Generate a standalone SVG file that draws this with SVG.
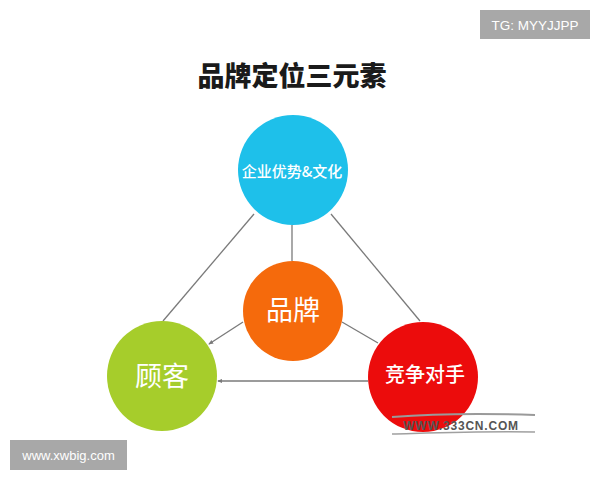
<svg xmlns="http://www.w3.org/2000/svg" width="600" height="480" viewBox="0 0 600 480">
<defs>
<style>
.cn{font-family:"Noto Sans CJK SC","Noto Sans",sans-serif;text-anchor:middle;fill:#fff}
.ln{stroke:#7a7a7a;stroke-width:1.3;fill:none}
.badge{fill:#a8a8a8}
.bt{font-family:"Liberation Sans","DejaVu Sans",sans-serif;fill:#fff;text-anchor:middle}
</style>
<marker id="ah" viewBox="0 0 6 6" refX="5" refY="3" markerWidth="5" markerHeight="5" orient="auto" markerUnits="userSpaceOnUse">
<path d="M0,0.5 L6,3 L0,5.5 z" fill="#7a7a7a"/>
</marker>
</defs>
<rect width="600" height="480" fill="#fff"/>
<g id="badge-tg">
<rect class="badge" x="480" y="10" width="110" height="29"/>
<text class="bt" x="535" y="29.5" font-size="13.5">TG: MYYJJPP</text>
</g>
<text x="292" y="86" font-family="Noto Sans CJK SC,sans-serif" font-size="27" font-weight="900" text-anchor="middle" fill="#1a1a1a">品牌定位三元素</text>
<g id="connectors">
<line class="ln" x1="254" y1="214" x2="163" y2="321"/>
<line class="ln" x1="331" y1="214" x2="420" y2="321"/>
<line class="ln" x1="292" y1="225" x2="292" y2="261"/>
<line class="ln" x1="243" y1="322" x2="209" y2="344" marker-end="url(#ah)"/>
<line class="ln" x1="342" y1="322" x2="378" y2="343"/>
<line class="ln" x1="368" y1="381" x2="218" y2="381" marker-end="url(#ah)"/>
</g>
<g id="node-culture">
<circle cx="293" cy="170" r="55" fill="#1ec0ea"/>
<text class="cn" x="292" y="177" font-size="15" font-weight="500">企业优势&amp;文化</text>
</g>
<g id="node-brand">
<circle cx="293" cy="311" r="50" fill="#f56a0c"/>
<text class="cn" x="293" y="320" font-size="27">品牌</text>
</g>
<g id="node-customer">
<circle cx="162" cy="376" r="55" fill="#a6cd2b"/>
<text class="cn" x="162" y="386" font-size="27">顾客</text>
</g>
<g id="node-competitor">
<circle cx="423" cy="377" r="55" fill="#ec0c0c"/>
<text class="cn" x="425" y="382" font-size="20" font-weight="500">竞争对手</text>
</g>
<g id="watermark-333">
<path d="M392,417 C430,414 480,413 535,415" stroke="#9a9a9a" stroke-width="2" fill="none"/>
<path d="M392,434 C430,433 480,431 535,432" stroke="#a0a0a0" stroke-width="1.5" fill="none"/>
<text x="461" y="430" font-family="Liberation Sans,sans-serif" font-size="12" font-weight="bold" fill="#555" text-anchor="middle" letter-spacing="0.8">WWW.333CN.COM</text>
</g>
<g id="badge-xwbig">
<rect class="badge" x="10" y="440" width="117" height="30"/>
<text class="bt" x="68.5" y="459.5" font-size="13">www.xwbig.com</text>
</g>
</svg>
